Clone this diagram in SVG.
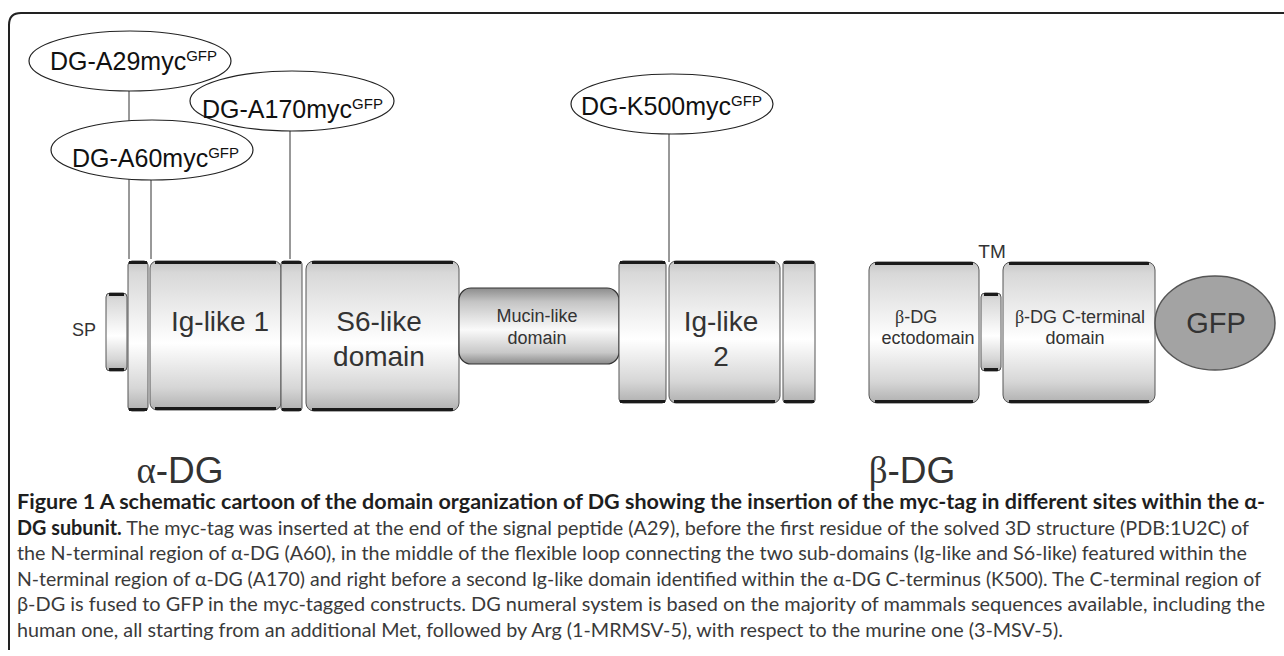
<svg xmlns="http://www.w3.org/2000/svg" width="1284" height="656" viewBox="0 0 1284 656">
<defs>
<linearGradient id="cyl" x1="0" y1="0" x2="0" y2="1">
<stop offset="0" stop-color="#c4c4c4"/>
<stop offset="0.08" stop-color="#d8d8d8"/>
<stop offset="0.55" stop-color="#ffffff"/>
<stop offset="0.85" stop-color="#d6d6d6"/>
<stop offset="1" stop-color="#b0b0b0"/>
</linearGradient>
<linearGradient id="muc" x1="0" y1="0" x2="0" y2="1">
<stop offset="0" stop-color="#8c8c8c"/>
<stop offset="0.18" stop-color="#c4c4c4"/>
<stop offset="0.55" stop-color="#fafafa"/>
<stop offset="0.85" stop-color="#c8c8c8"/>
<stop offset="1" stop-color="#8a8a8a"/>
</linearGradient>
<style>
.dom{fill:url(#cyl);stroke:#555;stroke-width:1}
.edge{stroke:#1a1a1a;stroke-width:3;fill:none}
.muc{fill:url(#muc);stroke:#333;stroke-width:1.2}
.tag{fill:#fff;stroke:#222;stroke-width:1.2}
.tagt{font-family:"Liberation Sans",Arial,sans-serif;font-size:25px;fill:#111}
.sup{font-size:15px}
.lbl{font-family:"Liberation Sans",Arial,sans-serif;fill:#333;text-anchor:middle}
.big{font-size:28px}
.sm{font-size:18px}
.conn{stroke:#333;stroke-width:1;fill:none}
.cap{font-family:Lato,"Open Sans",sans-serif;font-size:20px;fill:#3a3a3a}
.b{font-weight:bold;fill:#1e1e1e}
</style>
</defs>
<rect width="1284" height="656" fill="#fff"/>
<path d="M9,650 V25 Q9,13 21,13 H1284" fill="none" stroke="#222" stroke-width="2"/>

<g id="connectors">
<line class="conn" x1="129" y1="91" x2="129" y2="259"/>
<line class="conn" x1="151" y1="180" x2="151" y2="259"/>
<line class="conn" x1="290" y1="131" x2="290" y2="259"/>
<line class="conn" x1="669" y1="134" x2="669" y2="262"/>
</g>

<g id="tag-A29">
<ellipse class="tag" cx="130" cy="61" rx="101" ry="30"/>
<text class="tagt" x="50" y="70">DG-A29myc<tspan class="sup" dy="-9">GFP</tspan></text>
</g>
<g id="tag-A60">
<ellipse class="tag" cx="152" cy="150" rx="101" ry="30"/>
<text class="tagt" x="72" y="167">DG-A60myc<tspan class="sup" dy="-9">GFP</tspan></text>
</g>
<g id="tag-A170">
<ellipse class="tag" cx="292" cy="101" rx="102" ry="30"/>
<text class="tagt" x="202" y="118">DG-A170myc<tspan class="sup" dy="-9">GFP</tspan></text>
</g>
<g id="tag-K500">
<ellipse class="tag" cx="672" cy="104" rx="101" ry="30"/>
<text class="tagt" x="581" y="115">DG-K500myc<tspan class="sup" dy="-9">GFP</tspan></text>
</g>

<g id="SP">
<rect class="dom" x="106" y="293" width="21" height="78" rx="4"/>
<line class="edge" x1="109" y1="294.5" x2="124" y2="294.5"/>
<line class="edge" x1="109" y1="369.5" x2="124" y2="369.5"/>
<text class="lbl sm" x="84" y="336">SP</text>
</g>
<g id="ring1">
<rect class="dom" x="128" y="261" width="20" height="150" rx="4"/>
<line class="edge" x1="129" y1="262.5" x2="147" y2="262.5"/>
<line class="edge" x1="129" y1="409.5" x2="147" y2="409.5"/>
</g>
<g id="ig1">
<rect class="dom" x="150" y="261" width="131" height="149" rx="7"/>
<line class="edge" x1="155" y1="262.5" x2="276" y2="262.5"/>
<line class="edge" x1="155" y1="408.5" x2="276" y2="408.5"/>
<text class="lbl big" x="220" y="331">Ig-like 1</text>
</g>
<g id="ring2">
<rect class="dom" x="281" y="261" width="21" height="150" rx="3"/>
<line class="edge" x1="282" y1="262.5" x2="301" y2="262.5"/>
<line class="edge" x1="282" y1="409.5" x2="301" y2="409.5"/>
</g>
<g id="s6">
<rect class="dom" x="306" y="261" width="153" height="150" rx="8"/>
<line class="edge" x1="312" y1="262.5" x2="453" y2="262.5"/>
<line class="edge" x1="312" y1="409.5" x2="453" y2="409.5"/>
<text class="lbl big" x="379" y="331">S6-like</text>
<text class="lbl big" x="379" y="366">domain</text>
</g>
<g id="mucin">
<rect class="muc" x="459" y="288" width="160" height="76" rx="12"/>
<text class="lbl sm" x="537" y="322">Mucin-like</text>
<text class="lbl sm" x="537" y="344">domain</text>
</g>
<g id="ring3">
<rect class="dom" x="619" y="261" width="47" height="142" rx="4"/>
<line class="edge" x1="620" y1="262.5" x2="665" y2="262.5"/>
<line class="edge" x1="620" y1="401.5" x2="665" y2="401.5"/>
</g>
<g id="ig2">
<rect class="dom" x="669" y="261" width="111" height="142" rx="7"/>
<line class="edge" x1="674" y1="262.5" x2="775" y2="262.5"/>
<line class="edge" x1="674" y1="401.5" x2="775" y2="401.5"/>
<text class="lbl big" x="721" y="331">Ig-like</text>
<text class="lbl big" x="721" y="366">2</text>
</g>
<g id="ring4">
<rect class="dom" x="783" y="261" width="32" height="142" rx="3"/>
<line class="edge" x1="784" y1="262.5" x2="814" y2="262.5"/>
<line class="edge" x1="784" y1="401.5" x2="814" y2="401.5"/>
</g>

<g id="bdg-ecto">
<rect class="dom" x="869" y="262" width="110" height="141" rx="8"/>
<line class="edge" x1="875" y1="263.5" x2="973" y2="263.5"/>
<line class="edge" x1="875" y1="401.5" x2="973" y2="401.5"/>
<text class="lbl sm" x="895" y="323" style="text-anchor:start"><tspan font-family="Liberation Serif,serif">β</tspan>-DG</text>
<text class="lbl sm" x="928" y="344">ectodomain</text>
</g>
<g id="TM">
<rect class="dom" x="981" y="293" width="20" height="78" rx="4"/>
<line class="edge" x1="984" y1="294.5" x2="998" y2="294.5"/>
<line class="edge" x1="984" y1="369.5" x2="998" y2="369.5"/>
<text class="lbl" x="992" y="258" font-size="19" fill="#222">TM</text>
</g>
<g id="bdg-cterm">
<rect class="dom" x="1003" y="262" width="152" height="141" rx="8"/>
<line class="edge" x1="1009" y1="263.5" x2="1149" y2="263.5"/>
<line class="edge" x1="1009" y1="401.5" x2="1149" y2="401.5"/>
<text class="lbl sm" x="1080" y="323"><tspan font-family="Liberation Serif,serif">β</tspan>-DG C-terminal</text>
<text class="lbl sm" x="1075" y="344">domain</text>
</g>
<g id="GFP">
<ellipse cx="1215" cy="323" rx="60" ry="47" fill="#a3a3a3" stroke="#555" stroke-width="1.5"/>
<text class="lbl" x="1216" y="333" font-size="29" fill="#111">GFP</text>
</g>

<g id="subunit-labels">
<text class="lbl" x="180" y="483" font-size="37"><tspan font-family="Liberation Serif,serif">α</tspan>-DG</text>
<text class="lbl" x="912" y="483" font-size="37"><tspan font-family="Liberation Serif,serif">β</tspan>-DG</text>
</g>

<g id="caption">
<text class="cap b" x="17" y="509" textLength="1248" lengthAdjust="spacingAndGlyphs">Figure 1 A schematic cartoon of the domain organization of DG showing the insertion of the myc-tag in different sites within the α-</text>
<text class="cap" x="17" y="535" textLength="1232" lengthAdjust="spacingAndGlyphs"><tspan class="b">DG subunit.</tspan> The myc-tag was inserted at the end of the signal peptide (A29), before the first residue of the solved 3D structure (PDB:1U2C) of</text>
<text class="cap" x="17" y="560" textLength="1230" lengthAdjust="spacingAndGlyphs">the N-terminal region of α-DG (A60), in the middle of the flexible loop connecting the two sub-domains (Ig-like and S6-like) featured within the</text>
<text class="cap" x="17" y="586" textLength="1244" lengthAdjust="spacingAndGlyphs">N-terminal region of α-DG (A170) and right before a second Ig-like domain identified within the α-DG C-terminus (K500). The C-terminal region of</text>
<text class="cap" x="17" y="611" textLength="1248" lengthAdjust="spacingAndGlyphs">β-DG is fused to GFP in the myc-tagged constructs. DG numeral system is based on the majority of mammals sequences available, including the</text>
<text class="cap" x="17" y="637" textLength="1046" lengthAdjust="spacingAndGlyphs">human one, all starting from an additional Met, followed by Arg (1-MRMSV-5), with respect to the murine one (3-MSV-5).</text>
</g>
</svg>
